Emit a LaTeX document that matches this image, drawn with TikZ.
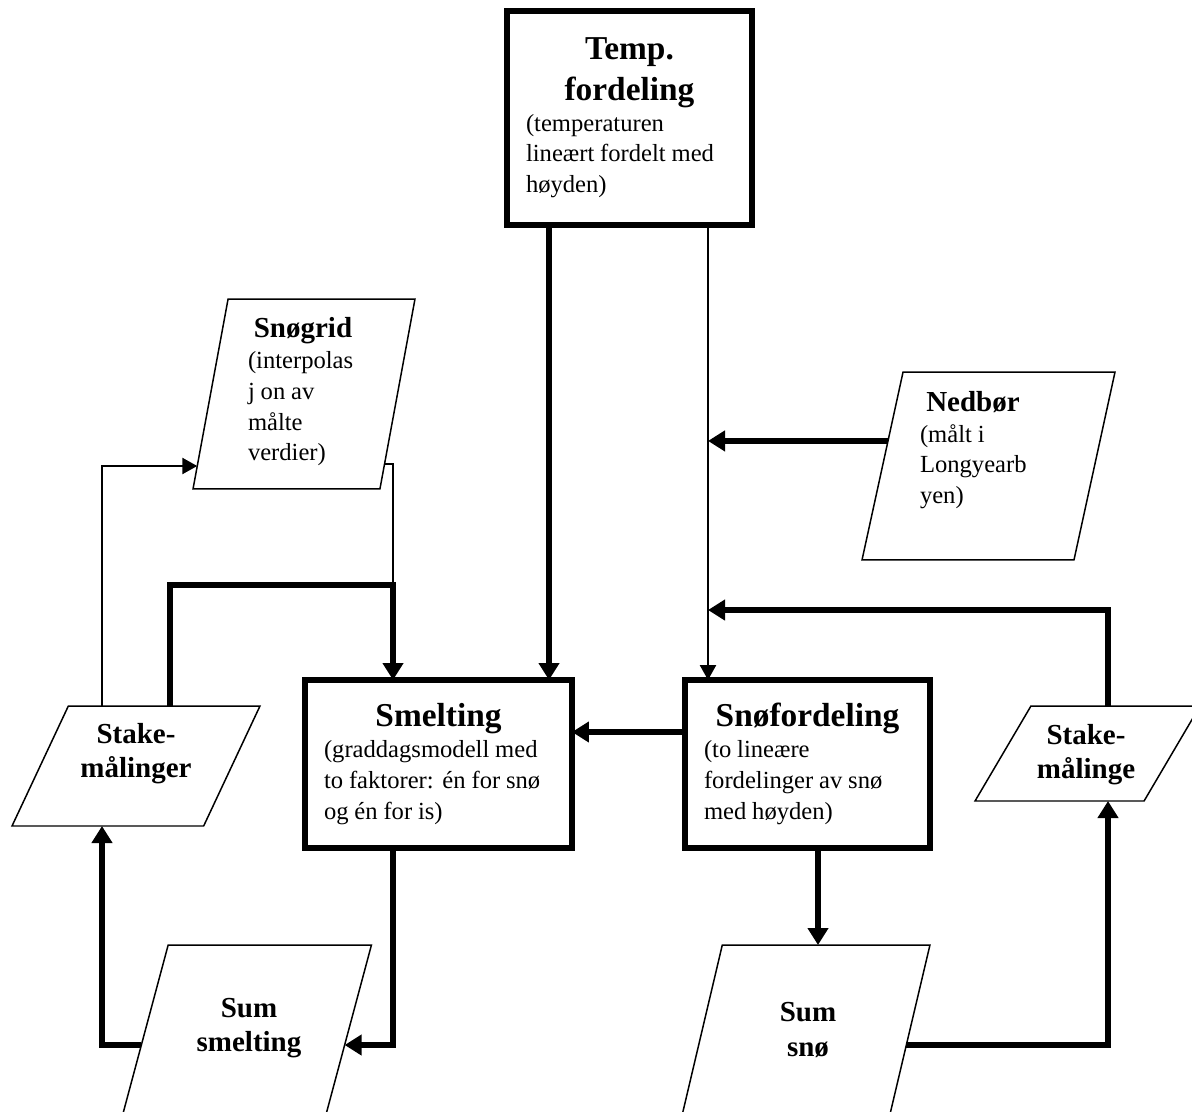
\documentclass[tikz,border=0pt]{standalone}
\usepackage{fontspec}
\setmainfont{Liberation Serif}
\usetikzlibrary{shapes.geometric,arrows.meta,calc}
\newcommand\boxttl{\fontsize{19}{23}\selectfont\bfseries}
\newcommand\parttl{\fontsize{16.5}{19.5}\selectfont\bfseries}
\newcommand\bodytxt{\fontsize{14}{17.5}\selectfont}

\begin{document}
\begin{tikzpicture}[x=0.02cm,y=-0.02cm,
    proc/.style={draw,line width=3.4pt,inner xsep=0.38cm,inner ysep=0pt,outer sep=0pt},
    data/.style={draw,line width=0.85pt,trapezium,trapezium stretches=true,inner sep=2pt,outer sep=0pt},
    lbl/.style={inner sep=0pt},
    thk/.style={line width=3pt,-{Triangle[length=0.34cm,width=0.4cm]}},
    thn/.style={line width=1.4pt,-{Triangle[length=0.3cm,width=0.32cm]}}]
  \clip (0,0) rectangle (1192,1111);

  % boxes
  \node[proc,text width=4.14cm,minimum height=4.28cm] (temp) at (629.5,118)
    {{\centering\boxttl Temp.\\fordeling\par}{\raggedright\bodytxt (temperaturen\\lineært fordelt med\\høyden)\par}};
  \node[proc,text width=4.58cm,minimum height=3.36cm] (smelt) at (438.5,764)
    {{\centering\boxttl Smelting\par}{\raggedright\bodytxt (graddagsmodell med\\to faktorer: én for snø\\og én for is)\par}};
  \node[proc,text width=4.14cm,minimum height=3.36cm] (snof) at (807.5,764)
    {{\centering\boxttl Snøfordeling\par}{\raggedright\bodytxt (to lineære\\fordelinger av snø\\med høyden)\par}};

  % parallelograms
  \node[data,minimum width=4.44cm,minimum height=3.8cm,trapezium left angle=77,trapezium right angle=103] (snogrid) at (304,394) {};
  \node[data,minimum width=5.06cm,minimum height=3.76cm,trapezium left angle=76.5,trapezium right angle=103.5] (nedbor) at (988.5,466) {};
  \node[data,minimum width=4.96cm,minimum height=2.4cm,trapezium left angle=67.4,trapezium right angle=112.6] (stakeL) at (136,766) {};
  \node[data,minimum width=4.5cm,minimum height=1.9cm,trapezium left angle=63.7,trapezium right angle=116.3] (stakeR) at (1087.5,753.5) {};
  \node[data,minimum width=5.14cm,minimum height=4cm,trapezium left angle=70.3,trapezium right angle=109.7] (sumsm) at (243,1045) {};
  \node[data,minimum width=5.1cm,minimum height=4cm,trapezium left angle=73.6,trapezium right angle=106.4] (sumsno) at (802.5,1045) {};

  \node[lbl,text width=2.2cm] (snogridtxt) at (303,392)
    {{\centering\parttl Snøgrid\par}{\raggedright\bodytxt (interpolas\\j on av\\målte\\verdier)\par}};
  \node[lbl,text width=2.12cm] (nedbortxt) at (973,450)
    {{\centering\parttl Nedbør\par}{\raggedright\bodytxt (målt i\\Longyearb\\yen)\par}};
  \node[lbl,align=center,font=\parttl] (stakeLtxt) at (136,754) {Stake-\\målinger};
  \node[lbl,align=center,font=\parttl] (stakeRtxt) at (1086,755) {Stake-\\målinge};
  \node[lbl,align=center,font=\parttl] (sumsmtxt) at (249,1028) {Sum\\smelting};
  \node[lbl,align=center,font=\parttl] (sumsnotxt) at (808,1030) {Sum\\snø};

  % connectors
  \coordinate (tl) at ($(temp.south)+(-80.5,0)$);
  \coordinate (tr) at ($(temp.south)+(78.5,0)$);
  \coordinate (rjoin) at ($(snof.north -| tr)+(0,-70)$);
  \coordinate (mjoin) at ($(smelt.north)+(-45.5,-95)$);
  \coordinate (lcol) at ($(stakeL.north)+(-34,0)$);
  \coordinate (rcol) at ($(stakeR.north)+(20.5,0)$);
  \draw[thk] (tl) -- (tl |- smelt.north);
  \draw[thn] (tr) -- (tr |- snof.north);
  \draw[thk] (nedbor.166) -- (nedbor.166 -| tr);
  \draw[thk] (rcol) |- (rjoin);
  \draw[thk] ($(snof.west)+(0,-32)$) coordinate (sw) -- (sw -| smelt.east);
  \draw[thk] ($(snof.south)+(10.5,0)$) coordinate (sd) -- (sd |- sumsno.north);
  \draw[thk] (sumsno.east) -| (rcol |- stakeR.south);
  \draw[thk] (mjoin |- smelt.south) |- (sumsm.east);
  \draw[thk] (sumsm.west) -| (lcol |- stakeL.south);
  \draw[thn] (lcol) |- (snogrid.214);
  \draw[thk] ($(stakeL.north)+(34,0)$) |- (mjoin) -- (mjoin |- smelt.north);
  \draw[thn,-] (snogrid.319) -| (mjoin);
\end{tikzpicture}
\end{document}
